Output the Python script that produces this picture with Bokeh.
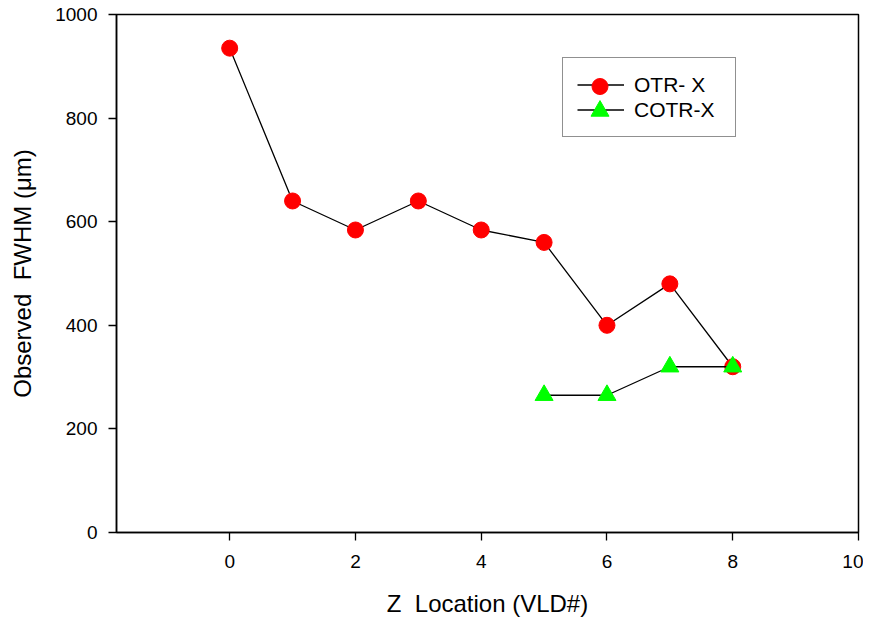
from bokeh.plotting import figure
from bokeh.models import Range1d, FixedTicker, Legend, LegendItem
from bokeh.embed import file_html
from bokeh.resources import INLINE

# Data
otr_x = [0, 1, 2, 3, 4, 5, 6, 7, 8]
otr_y = [935, 640, 584, 640, 584, 560, 400, 480, 320]
cotr_x = [5, 6, 7, 8]
cotr_y = [265, 265, 320, 320]
x_ticks = [0, 2, 4, 6, 8, 10]
y_ticks = [0, 200, 400, 600, 800, 1000]
series_labels = ["OTR- X", "COTR-X"]

FONT = "Liberation Sans"

p = figure(width=863, height=619, output_backend="svg", toolbar_location=None,
           x_range=Range1d(-1.8, 10), y_range=Range1d(0, 1000),
           min_border_left=116, min_border_top=14, min_border_right=5, min_border_bottom=86)

p.xgrid.visible = False
p.ygrid.visible = False
p.outline_line_color = "black"
p.outline_line_width = 1.5
p.outline_line_alpha = 1.0

for ax, ticks in ((p.xaxis[0], x_ticks), (p.yaxis[0], y_ticks)):
    ax.ticker = FixedTicker(ticks=ticks)
    ax.minor_tick_line_color = None
    ax.major_tick_in = 0
    ax.major_tick_out = 8
    ax.major_tick_line_width = 1.3
    ax.axis_line_width = 1.5
    ax.axis_line_color = "black"
    ax.major_tick_line_color = "black"
    ax.major_label_text_font = FONT
    ax.major_label_text_font_size = "19px"
    ax.major_label_text_color = "black"
    ax.axis_label_text_font = FONT
    ax.axis_label_text_font_size = "24px"
    ax.axis_label_text_font_style = "normal"
    ax.axis_label_text_color = "black"

p.xaxis.axis_label = "Z \u00a0Location (VLD#)"
p.yaxis.axis_label = "Observed \u00a0FWHM (\u03bcm)"
p.xaxis.major_label_standoff = 14
p.yaxis.major_label_standoff = 11
p.xaxis.axis_label_standoff = 19
p.yaxis.axis_label_standoff = 16

l1 = p.line(otr_x, otr_y, line_color="black", line_width=1.3)
m1 = p.scatter(otr_x, otr_y, marker="circle", size=16, fill_color="#ff0000", line_color="#ff0000")
l2 = p.line(cotr_x, cotr_y, line_color="black", line_width=1.3)
m2 = p.scatter(cotr_x, cotr_y, marker="triangle", size=18, fill_color="#00ff00", line_color="#00ff00")

# Main legend: box, line samples and labels
legend = Legend(items=[LegendItem(label=series_labels[0], renderers=[l1]),
                       LegendItem(label=series_labels[1], renderers=[l2])],
                location=(446, 395))
legend.border_line_color = "#222222"
legend.border_line_width = 1.5
legend.padding = 14
legend.spacing = 0
legend.margin = 0
legend.glyph_width = 47
legend.glyph_height = 25
legend.label_height = 25
legend.label_width = 87
legend.label_standoff = 10
legend.label_text_font = FONT
legend.label_text_font_size = "21px"
legend.label_text_color = "black"
legend.background_fill_alpha = 1.0
p.add_layout(legend, "center")

# Marker overlays for the legend (larger marker samples)
def marker_legend(renderer, gh, loc):
    lg = Legend(items=[LegendItem(label=" ", renderers=[renderer])], location=loc)
    lg.border_line_color = None
    lg.background_fill_alpha = 0
    lg.padding = 0
    lg.margin = 0
    lg.spacing = 0
    lg.glyph_width = 47
    lg.glyph_height = gh
    lg.label_height = 10
    lg.label_standoff = 0
    lg.label_text_font_size = "1px"
    return lg

p.add_layout(marker_legend(m1, 40, (460, 426)), "center")
p.add_layout(marker_legend(m2, 45, (460, 399)), "center")

open("out.html", "w").write(file_html(p, INLINE))
